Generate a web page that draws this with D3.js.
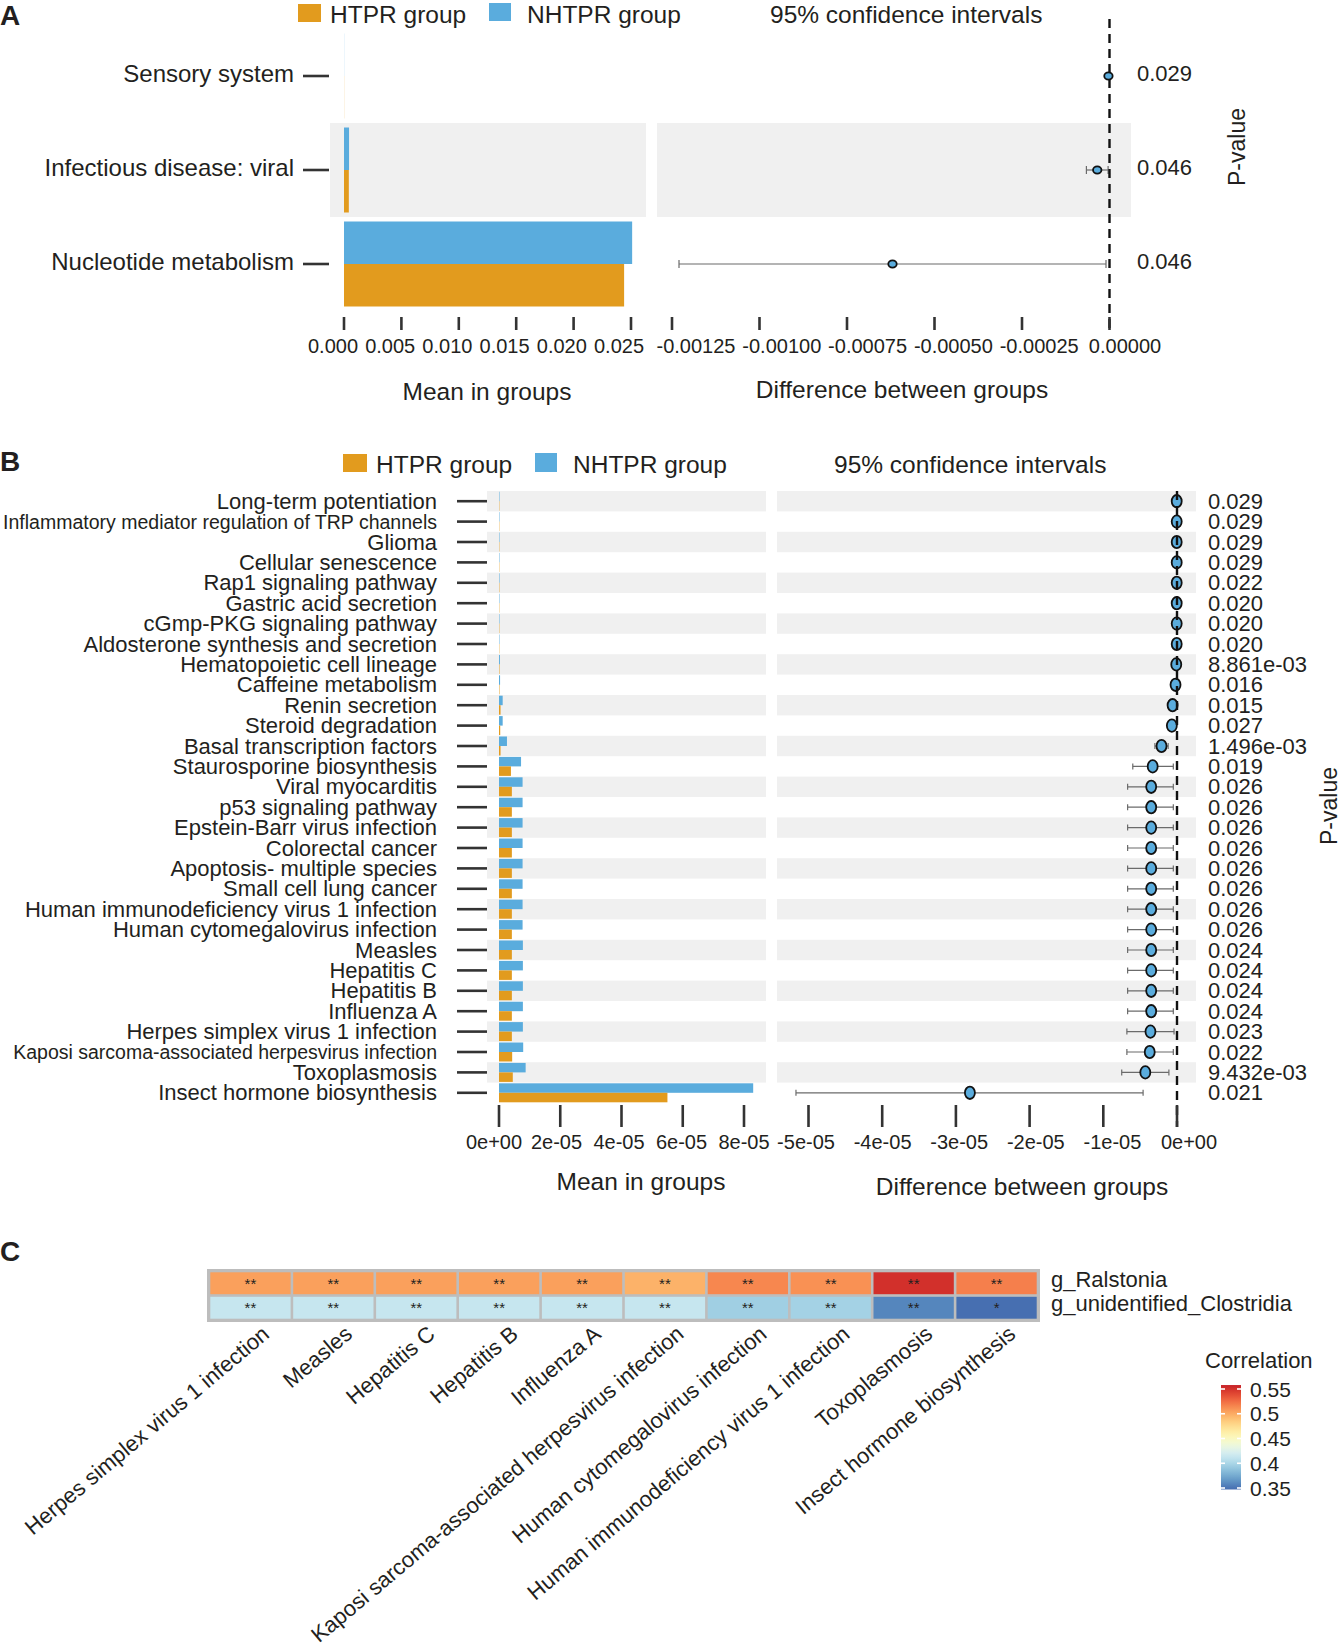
<!DOCTYPE html>
<html>
<head>
<meta charset="utf-8">
<script src="https://cdn.jsdelivr.net/npm/d3@7"></script>
<style>
  html, body { margin: 0; padding: 0; background: #ffffff; }
  svg { display: block; font-family: "Liberation Sans", Arial, Helvetica, sans-serif; }
  text { fill: #231F20; }
</style>
</head>
<body>
<svg id="fig" width="1343" height="1647"></svg>
<script>
// ---------------- DATA ----------------
// Panel A
const aCategories = ["Sensory system", "Infectious disease: viral", "Nucleotide metabolism"];
const aHTPR   = [0.00001, 0.00042, 0.0244];
const aNHTPR  = [0.00001, 0.00044, 0.0251];
const aDiff   = [-0.000003, -0.000035, -0.00062];
const aLower  = [-0.000008, -0.000066, -0.00123];
const aUpper  = [0.000002, -0.000004, -0.00001];
const aPvalues = ["0.029", "0.046", "0.046"];
const aMeanTicks = [0, 0.005, 0.010, 0.015, 0.020, 0.025];
const aMeanTickLabels = ["0.000", "0.005", "0.010", "0.015", "0.020", "0.025"];
const aDiffTicks = [-0.00125, -0.00100, -0.00075, -0.00050, -0.00025, 0];
const aDiffTickLabels = ["-0.00125", "-0.00100", "-0.00075", "-0.00050", "-0.00025", "0.00000"];

// Panel B
const bCategories = [
  "Long-term potentiation", "Inflammatory mediator regulation of TRP channels", "Glioma",
  "Cellular senescence", "Rap1 signaling pathway", "Gastric acid secretion",
  "cGmp-PKG signaling pathway", "Aldosterone synthesis and secretion", "Hematopoietic cell lineage",
  "Caffeine metabolism", "Renin secretion", "Steroid degradation", "Basal transcription factors",
  "Staurosporine biosynthesis", "Viral myocarditis", "p53 signaling pathway",
  "Epstein-Barr virus infection", "Colorectal cancer", "Apoptosis- multiple species",
  "Small cell lung cancer", "Human immunodeficiency virus 1 infection",
  "Human cytomegalovirus infection", "Measles", "Hepatitis C", "Hepatitis B", "Influenza A",
  "Herpes simplex virus 1 infection", "Kaposi sarcoma-associated herpesvirus infection",
  "Toxoplasmosis", "Insect hormone biosynthesis"
];
const bHTPR = [
  1.1e-7, 1.0e-7, 1.1e-7, 1.0e-7, 1.2e-7, 1.0e-7, 1.1e-7, 1.0e-7, 1.5e-7, 1.5e-7,
  5.0e-7, 4.0e-7, 5.0e-7, 3.9e-6, 4.2e-6, 4.2e-6, 4.2e-6, 4.2e-6, 4.2e-6, 4.2e-6,
  4.2e-6, 4.2e-6, 4.2e-6, 4.2e-6, 4.2e-6, 4.2e-6, 4.2e-6, 4.3e-6, 4.5e-6, 5.5e-5
];
const bNHTPR = [
  1.5e-7, 1.4e-7, 1.5e-7, 1.4e-7, 1.6e-7, 1.4e-7, 1.5e-7, 1.4e-7, 3.0e-7, 3.5e-7,
  1.2e-6, 1.2e-6, 2.6e-6, 7.2e-6, 7.7e-6, 7.7e-6, 7.7e-6, 7.7e-6, 7.7e-6, 7.7e-6,
  7.7e-6, 7.7e-6, 7.8e-6, 7.8e-6, 7.8e-6, 7.8e-6, 7.8e-6, 7.9e-6, 8.7e-6, 8.3e-5
];
const bDiff = [
  -4e-8, -4e-8, -4e-8, -4e-8, -4e-8, -4e-8, -4e-8, -4e-8, -1.0e-7, -2.0e-7,
  -6.0e-7, -7.0e-7, -2.1e-6, -3.3e-6, -3.5e-6, -3.5e-6, -3.5e-6, -3.5e-6, -3.5e-6, -3.5e-6,
  -3.5e-6, -3.5e-6, -3.5e-6, -3.5e-6, -3.5e-6, -3.5e-6, -3.6e-6, -3.7e-6, -4.3e-6, -2.81e-5
];
const bLower = [
  -8e-8, -8e-8, -8e-8, -8e-8, -8e-8, -8e-8, -8e-8, -8e-8, -2.0e-7, -3.0e-7,
  -8.0e-7, -1.0e-6, -3.0e-6, -6.0e-6, -6.7e-6, -6.7e-6, -6.7e-6, -6.7e-6, -6.7e-6, -6.7e-6,
  -6.7e-6, -6.7e-6, -6.7e-6, -6.7e-6, -6.7e-6, -6.7e-6, -6.8e-6, -6.8e-6, -7.5e-6, -5.17e-5
];
const bUpper = [
  0, 0, 0, 0, 0, 0, 0, 0, -2e-8, -1.0e-7,
  -4.0e-7, -4.0e-7, -1.2e-6, -5.0e-7, -5.0e-7, -5.0e-7, -5.0e-7, -5.0e-7, -5.0e-7, -5.0e-7,
  -5.0e-7, -5.0e-7, -5.0e-7, -5.0e-7, -5.0e-7, -5.0e-7, -4.0e-7, -5.0e-7, -1.1e-6, -4.6e-6
];
const bPvalues = [
  "0.029", "0.029", "0.029", "0.029", "0.022", "0.020", "0.020", "0.020", "8.861e-03", "0.016",
  "0.015", "0.027", "1.496e-03", "0.019", "0.026", "0.026", "0.026", "0.026", "0.026", "0.026",
  "0.026", "0.026", "0.024", "0.024", "0.024", "0.024", "0.023", "0.022", "9.432e-03", "0.021"
];
const bMeanTicks = [0, 2e-5, 4e-5, 6e-5, 8e-5];
const bMeanTickLabels = ["0e+00", "2e-05", "4e-05", "6e-05", "8e-05"];
const bDiffTicks = [-5e-5, -4e-5, -3e-5, -2e-5, -1e-5, 0];
const bDiffTickLabels = ["-5e-05", "-4e-05", "-3e-05", "-2e-05", "-1e-05", "0e+00"];

// Panel C
const cColumns = [
  "Herpes simplex virus 1 infection", "Measles", "Hepatitis C", "Hepatitis B", "Influenza A",
  "Kaposi sarcoma-associated herpesvirus infection", "Human cytomegalovirus infection",
  "Human immunodeficiency virus 1 infection", "Toxoplasmosis", "Insect hormone biosynthesis"
];
const cRows = ["g_Ralstonia", "g_unidentified_Clostridia"];
const cRalstonia  = [0.505, 0.505, 0.505, 0.505, 0.505, 0.497, 0.515, 0.511, 0.551, 0.518];
const cClostridia = [0.413, 0.413, 0.413, 0.413, 0.413, 0.413, 0.395, 0.397, 0.358, 0.348];
const cRalstoniaSig  = ["**", "**", "**", "**", "**", "**", "**", "**", "**", "**"];
const cClostridiaSig = ["**", "**", "**", "**", "**", "**", "**", "**", "**", "*"];
const cLegendTicks = [0.35, 0.4, 0.45, 0.5, 0.55];
const cLegendTickLabels = ["0.35", "0.4", "0.45", "0.5", "0.55"];

// ---------------- STYLE ----------------
const ORANGE = "#E29B1E";
const BLUE = "#5AACDD";
const BAND = "#F0F0F0";
const TICK = "#333333";

const svg = d3.select("#fig");

function panelLetter(txt, y) {
  svg.append("text").attr("x", 0).attr("y", y)
    .attr("font-size", 28).attr("font-weight", "bold").text(txt);
}

function stampPanel(cfg) {
  const g = svg.append("g");
  const n = cfg.categories.length;
  const yBand = d3.scaleBand().domain(cfg.categories).range(cfg.yRange);
  const bw = yBand.bandwidth();
  const cy = d => yBand(d) + bw / 2;
  const xMean = d3.scaleLinear().domain(cfg.meanDomain).range(cfg.meanRange);
  const xDiff = d3.scaleLinear().domain(cfg.diffDomain).range(cfg.diffRange);
  // tick-label placement (labels in the original sit slightly off their tick marks)
  const xMeanLab = d3.scaleLinear().domain(cfg.meanDomain).range(cfg.meanLabelRange);
  const xDiffLab = d3.scaleLinear().domain(cfg.diffDomain).range(cfg.diffLabelRange);

  // alternating bands
  cfg.categories.forEach((c, i) => {
    if ((n - 1 - i) % 2 === 1) {
      g.append("rect").attr("x", cfg.leftPanel[0]).attr("y", yBand(c))
        .attr("width", cfg.leftPanel[1] - cfg.leftPanel[0]).attr("height", bw).attr("fill", BAND);
      g.append("rect").attr("x", cfg.rightPanel[0]).attr("y", yBand(c))
        .attr("width", cfg.rightPanel[1] - cfg.rightPanel[0]).attr("height", bw).attr("fill", BAND);
    }
  });

  // bars
  const barH = cfg.barH;
  g.selectAll(".nb").data(cfg.categories).enter().append("rect")
    .attr("x", xMean(0)).attr("y", d => cy(d) - barH)
    .attr("width", (d, i) => xMean(cfg.nhtpr[i]) - xMean(0))
    .attr("height", barH).attr("fill", BLUE);
  g.selectAll(".hb").data(cfg.categories).enter().append("rect")
    .attr("x", xMean(0)).attr("y", d => cy(d))
    .attr("width", (d, i) => xMean(cfg.htpr[i]) - xMean(0))
    .attr("height", barH).attr("fill", ORANGE);

  // category labels + ticks
  cfg.categories.forEach((c, i) => {
    const fs = c.length > 42 ? cfg.smallFont : cfg.labelFont;
    g.append("text").attr("x", cfg.labelX).attr("y", cy(c) + cfg.labelDy)
      .attr("text-anchor", "end").attr("dominant-baseline", "central")
      .attr("font-size", fs).text(c);
    g.append("line").attr("x1", cfg.rowTick[0]).attr("x2", cfg.rowTick[1])
      .attr("y1", cy(c)).attr("y2", cy(c)).attr("stroke", TICK).attr("stroke-width", 2.6);
  });

  // error bars
  cfg.categories.forEach((c, i) => {
    const y = cy(c);
    const x1 = xDiff(cfg.lower[i]), x2 = xDiff(cfg.upper[i]);
    g.append("line").attr("x1", x1).attr("x2", x2).attr("y1", y).attr("y2", y)
      .attr("stroke", "#6b6b6b").attr("stroke-width", 1.2);
    [x1, x2].forEach(x => g.append("line").attr("x1", x).attr("x2", x)
      .attr("y1", y - cfg.capH).attr("y2", y + cfg.capH)
      .attr("stroke", "#6b6b6b").attr("stroke-width", 1.2));
  });
  // points
  g.selectAll(".pt").data(cfg.categories).enter().append("ellipse")
    .attr("cx", (d, i) => xDiff(cfg.diff[i])).attr("cy", d => cy(d))
    .attr("rx", cfg.ptRx).attr("ry", cfg.ptRy)
    .attr("fill", BLUE).attr("stroke", "#111").attr("stroke-width", 1.8);

  // dashed zero line
  g.append("line").attr("x1", xDiff(0)).attr("x2", xDiff(0))
    .attr("y1", cfg.dashY[0]).attr("y2", cfg.dashY[1])
    .attr("stroke", "#111").attr("stroke-width", 2.4).attr("stroke-dasharray", "9,6");

  // p-values
  cfg.categories.forEach((c, i) => {
    g.append("text").attr("x", cfg.pX).attr("y", cy(c) + cfg.labelDy).attr("dominant-baseline", "central")
      .attr("font-size", cfg.pFont).text(cfg.pvalues[i]);
  });
  g.append("text").attr("transform", `translate(${cfg.pTitle[0]},${cfg.pTitle[1]}) rotate(-90)`)
    .attr("text-anchor", "middle").attr("dominant-baseline", "central")
    .attr("font-size", 23).text("P-value");

  // axes ticks
  cfg.meanTicks.forEach((t, i) => {
    g.append("line").attr("x1", xMean(t)).attr("x2", xMean(t))
      .attr("y1", cfg.tickY[0]).attr("y2", cfg.tickY[1]).attr("stroke", TICK).attr("stroke-width", 2.6);
    g.append("text").attr("x", xMeanLab(t)).attr("y", cfg.tickLabelY)
      .attr("text-anchor", "middle").attr("font-size", cfg.tickFont).text(cfg.meanTickLabels[i]);
  });
  cfg.diffTicks.forEach((t, i) => {
    g.append("line").attr("x1", xDiff(t)).attr("x2", xDiff(t))
      .attr("y1", cfg.tickY[0]).attr("y2", cfg.tickY[1]).attr("stroke", TICK).attr("stroke-width", 2.6);
    g.append("text").attr("x", xDiffLab(t)).attr("y", cfg.tickLabelY)
      .attr("text-anchor", "middle").attr("font-size", cfg.tickFont).text(cfg.diffTickLabels[i]);
  });

  // axis titles
  g.append("text").attr("x", cfg.meanTitle[0]).attr("y", cfg.meanTitle[1])
    .attr("text-anchor", "middle").attr("font-size", 24.5).text("Mean in groups");
  g.append("text").attr("x", cfg.diffTitle[0]).attr("y", cfg.diffTitle[1])
    .attr("text-anchor", "middle").attr("font-size", 24.5).text("Difference between groups");

  // legend
  const L = cfg.legend;
  g.append("rect").attr("x", L.sq1[0]).attr("y", L.sq1[1]).attr("width", L.sq1[2]).attr("height", L.sq1[3]).attr("fill", ORANGE);
  g.append("text").attr("x", L.t1).attr("y", L.base).attr("font-size", 24.5).text("HTPR group");
  g.append("rect").attr("x", L.sq2[0]).attr("y", L.sq2[1]).attr("width", L.sq2[2]).attr("height", L.sq2[3]).attr("fill", BLUE);
  g.append("text").attr("x", L.t2).attr("y", L.base).attr("font-size", 24.5).text("NHTPR group");
  g.append("text").attr("x", L.t3).attr("y", L.base).attr("font-size", 24.5).text("95% confidence intervals");
}

// ---------- Panel A ----------
panelLetter("A", 25);
stampPanel({
  categories: aCategories, htpr: aHTPR, nhtpr: aNHTPR, diff: aDiff, lower: aLower, upper: aUpper,
  pvalues: aPvalues,
  yRange: [29, 311],
  meanDomain: [0, 0.025], meanRange: [344, 631], meanLabelRange: [333, 619],
  diffDomain: [-0.00125, 0], diffRange: [672, 1109.5], diffLabelRange: [696, 1125],
  leftPanel: [330, 646], rightPanel: [657, 1131],
  barH: 42.5, labelX: 294, labelDy: -2.5, labelFont: 24, smallFont: 24, rowTick: [303, 329],
  capH: 4, ptRx: 4.2, ptRy: 3.6,
  dashY: [19, 331], pX: 1137, pFont: 22, pTitle: [1237, 147],
  meanTicks: aMeanTicks, meanTickLabels: aMeanTickLabels,
  diffTicks: aDiffTicks, diffTickLabels: aDiffTickLabels,
  tickY: [317, 330], tickLabelY: 353, tickFont: 20,
  meanTitle: [487, 400], diffTitle: [902, 398],
  legend: { sq1: [298, 4, 23, 18], sq2: [489, 3, 22, 18], t1: 330, t2: 527, t3: 770, base: 23 }
});

// ---------- Panel B ----------
panelLetter("B", 471);
stampPanel({
  categories: bCategories, htpr: bHTPR, nhtpr: bNHTPR, diff: bDiff, lower: bLower, upper: bUpper,
  pvalues: bPvalues,
  yRange: [491, 1103],
  meanDomain: [0, 8e-5], meanRange: [499, 744], meanLabelRange: [494, 744],
  diffDomain: [-5e-5, 0], diffRange: [808.5, 1177], diffLabelRange: [806, 1189],
  leftPanel: [487, 766], rightPanel: [777, 1196],
  barH: 9.5, labelX: 437, labelDy: 0, labelFont: 22, smallFont: 19.5, rowTick: [457, 487],
  capH: 3, ptRx: 5, ptRy: 6.2,
  dashY: [491, 1127], pX: 1208, pFont: 22, pTitle: [1329, 806],
  meanTicks: bMeanTicks, meanTickLabels: bMeanTickLabels,
  diffTicks: bDiffTicks, diffTickLabels: bDiffTickLabels,
  tickY: [1105, 1127], tickLabelY: 1149, tickFont: 20,
  meanTitle: [641, 1190], diffTitle: [1022, 1195],
  legend: { sq1: [343, 454, 24, 18], sq2: [535, 453, 22, 19], t1: 376, t2: 573, t3: 834, base: 473 }
});

// ---------- Panel C ----------
panelLetter("C", 1261);
const cg = svg.append("g");
const cx = d3.scaleBand().domain(cColumns).range([209, 1038]);
const cy = d3.scaleBand().domain(cRows).range([1271, 1320]);
const pos = d3.scaleLinear().domain([0.35, 0.55]).range([0.9, 0.1]);
const colorOf = v => d3.interpolateRdYlBu(pos(v));
const cValues = [cRalstonia, cClostridia];
const cSig = [cRalstoniaSig, cClostridiaSig];

cg.append("rect").attr("x", 207).attr("y", 1269).attr("width", 833).attr("height", 53).attr("fill", "#BDBDBD");
cRows.forEach((r, ri) => {
  cColumns.forEach((c, ci) => {
    cg.append("rect").attr("x", cx(c) + 1.3).attr("y", cy(r) + 1.3)
      .attr("width", cx.bandwidth() - 2.6).attr("height", cy.bandwidth() - 2.6)
      .attr("fill", colorOf(cValues[ri][ci]));
    cg.append("text").attr("x", cx(c) + cx.bandwidth() / 2).attr("y", cy(r) + 12)
      .attr("text-anchor", "middle").attr("dominant-baseline", "central")
      .attr("font-size", 15).text(cSig[ri][ci]);
  });
  cg.append("text").attr("x", 1051).attr("y", cy(r) + cy.bandwidth() / 2 - 4)
    .attr("dominant-baseline", "central").attr("font-size", 22).text(r);
});
cColumns.forEach(c => {
  cg.append("text")
    .attr("transform", `translate(${cx(c) + cx.bandwidth() / 2 + 10},1324) rotate(-40)`)
    .attr("text-anchor", "end").attr("dominant-baseline", "hanging")
    .attr("font-size", 22).text(c);
});

// colour legend
const ly = d3.scaleLinear().domain([0.35, 0.55]).range([1488, 1389]);
const defs = svg.append("defs");
const grad = defs.append("linearGradient").attr("id", "cgrad")
  .attr("x1", 0).attr("y1", 1).attr("x2", 0).attr("y2", 0);
const barLo = 0.347, barHi = 0.558;
d3.range(0, 1.0001, 0.05).forEach(t => {
  grad.append("stop").attr("offset", t).attr("stop-color", colorOf(barLo + t * (barHi - barLo)));
});
cg.append("text").attr("x", 1205).attr("y", 1360).attr("dominant-baseline", "central")
  .attr("font-size", 22).text("Correlation");
cg.append("rect").attr("x", 1221).attr("y", ly(barHi)).attr("width", 20)
  .attr("height", ly(barLo) - ly(barHi)).attr("fill", "url(#cgrad)");
cLegendTicks.forEach((t, i) => {
  cg.append("line").attr("x1", 1221).attr("x2", 1225).attr("y1", ly(t)).attr("y2", ly(t))
    .attr("stroke", "#fff").attr("stroke-width", 1.6);
  cg.append("line").attr("x1", 1237).attr("x2", 1241).attr("y1", ly(t)).attr("y2", ly(t))
    .attr("stroke", "#fff").attr("stroke-width", 1.6);
  cg.append("text").attr("x", 1250).attr("y", ly(t)).attr("dominant-baseline", "central")
    .attr("font-size", 21).text(cLegendTickLabels[i]);
});
</script>
</body>
</html>
